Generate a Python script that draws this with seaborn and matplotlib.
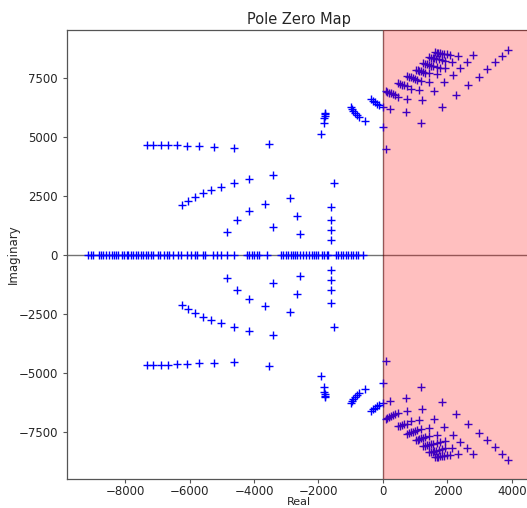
import numpy as np
import pandas as pd
import matplotlib
matplotlib.use("Agg")
import matplotlib.pyplot as plt
import seaborn as sns

# Poles lying on the real axis
real_axis_poles = [
    -9137, -9064, -8982, -8796, -8734, -8672, -8599, -8486, -8413, -8341,
    -8279, -8207, -8103, -8031, -7948, -7897, -7823, -7742, -7659, -7587,
    -7513, -7432, -7349, -7276, -7203, -7122, -6967, -6915, -6781, -6708,
    -6626, -6502, -6347, -6273, -6087, -5953, -5829, -5777, -5591, -5519,
    -5261, -5157, -5033, -4847, -4620, -4227, -4146, -4071, -3991, -3916,
    -3836, -3606, -3172, -3091, -3008, -2936, -2862, -2800, -2729, -2657,
    -2574, -2471, -2388, -2285, -2211, -2140, -2078, -2006, -1901, -1829,
    -1746, -1696, -1457, -1386, -1312, -1231, -1147, -1076, -1002, -921,
    -837, -784, -629,
]

# Complex poles in the upper half plane (conjugates are added below)
branch_row_re = [-7327, -7122, -6893, -6657, -6378, -6078, -5705, -5231, -4611, -3526]
branch_row_im = [4674, 4674, 4674, 4674, 4647, 4633, 4604, 4576, 4548, 4690]

branch_a_re = [-6233, -6037, -5820, -5591, -5324, -5014, -4629, -4155, -3411]
branch_a_im = [2119, 2288, 2445, 2614, 2754, 2894, 3051, 3220, 3403]

branch_b_re = [-4847, -4537, -4155, -3649, -2874, -3401, -2676, -2583]
branch_b_im = [975, 1483, 1864, 2174, 2415, 1199, 1640, 890]

column_re = [-1612, -1612, -1612, -1612, -1529]
column_im = [636, 1059, 1470, 2034, 3038]

cluster_re = [-1798, -1789, -1808, -1820, -1839, -1913,
              -992, -961, -921, -868, -816, -744, -549,
              -381, -319, -248, -177, -124, -9, -9, 93, 217, 713]
cluster_im = [6030, 5962, 5890, 5792, 5606, 5140,
              6258, 6186, 6102, 6004, 5932, 5860, 5678,
              6610, 6538, 6470, 6398, 6356, 6284, 5437, 4492, 6173, 6074]

fan_re = [
    1612, 1664, 1716, 1767, 1819, 1892, 1974, 2088, 2326, 2801,
    1437, 1488, 1540, 1592, 1654, 1726, 1819, 1933, 2140, 2605,
    1251, 1302, 1354, 1416, 1478, 1561, 1664, 1767, 1933, 2388,
    1023, 1075, 1127, 1189, 1251, 1313, 1437, 1685, 2160,
    755, 806, 868, 920, 982, 1044, 1168, 1426, 1892,
    476, 527, 589, 651, 734, 858, 1106, 1581,
    93, 134, 196, 248, 310, 372, 476, 734, 1209,
    3886, 3690, 3473, 3235, 2966, 2636, 2274, 1819, 1178,
]
fan_im = [
    8587, 8573, 8559, 8545, 8531, 8517, 8503, 8474, 8446, 8460,
    8376, 8361, 8347, 8333, 8305, 8291, 8248, 8206, 8178, 8178,
    8121, 8093, 8079, 8051, 8022, 8008, 7980, 7938, 7910, 7924,
    7853, 7839, 7811, 7782, 7754, 7726, 7698, 7655, 7641,
    7585, 7556, 7528, 7500, 7458, 7429, 7387, 7330, 7316,
    7274, 7246, 7217, 7189, 7161, 7048, 6991, 6949,
    6949, 6921, 6878, 6850, 6808, 6765, 6695, 6610, 6554,
    8687, 8446, 8164, 7867, 7543, 7189, 6766, 6257, 5593,
]

upper_re = branch_row_re + branch_a_re + branch_b_re + column_re + cluster_re + fan_re
upper_im = branch_row_im + branch_a_im + branch_b_im + column_im + cluster_im + fan_im

poles = pd.DataFrame({
    "Real": list(real_axis_poles) + upper_re + upper_re,
    "Imaginary": [0] * len(real_axis_poles) + upper_im + [-v for v in upper_im],
})

sns.set_style("white")
plt.rcParams["font.family"] = ["DejaVu Sans"]

fig = plt.figure(figsize=(5.27, 5.08), dpi=100)
ax = fig.add_axes([67 / 527, 29 / 508, 463 / 527, 449 / 508])

sns.scatterplot(data=poles, x="Real", y="Imaginary", marker="+", color="blue",
                s=30, linewidth=1.0, ax=ax, zorder=2)

ax.axhline(0, color="black", alpha=0.55, lw=1.0, zorder=1)
ax.axvline(0, color="black", alpha=0.55, lw=1.0, zorder=1)
ax.set_xlim(-9800, 4560)
ax.set_ylim(-9500, 9530)
# unstable region shaded over the poles
ax.axvspan(0, 4560, color="red", alpha=0.25, lw=0, zorder=3)

ax.set_xticks([-8000, -6000, -4000, -2000, 0, 2000, 4000])
ax.set_yticks([-7500, -5000, -2500, 0, 2500, 5000, 7500])
ax.tick_params(axis="both", labelsize=8.5, length=3, width=0.8, color="#555555",
               bottom=True, left=True)
ax.tick_params(axis="x", pad=1.5)
for s in ax.spines.values():
    s.set_color("#555555")
    s.set_linewidth(0.9)

ax.set_title("Pole Zero Map", fontsize=10.5, pad=4)
ax.set_xlabel("Real", fontsize=8, labelpad=-1)
ax.set_ylabel("Imaginary", fontsize=8.5, labelpad=-1)

fig.savefig("out.png", dpi=100)
